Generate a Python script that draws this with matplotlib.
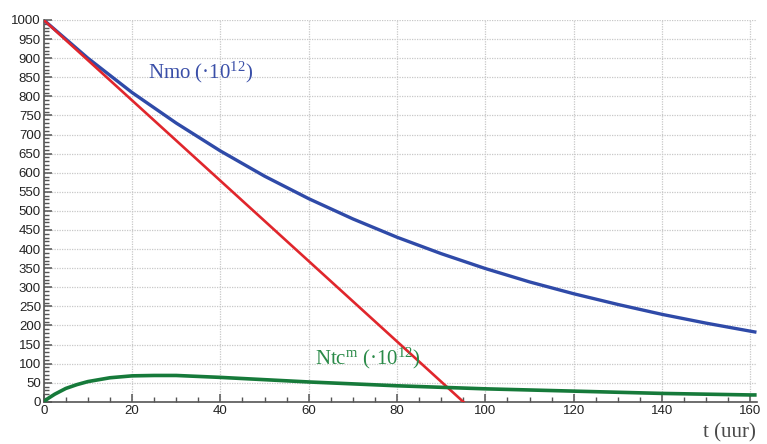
import matplotlib
matplotlib.use("agg")
import matplotlib.pyplot as plt
from matplotlib.ticker import MultipleLocator

# data
t_mo = [0, 10, 20, 30, 40, 50, 60, 70, 80, 90, 100, 110, 120, 130, 140, 150, 160, 161]
n_mo = [1000, 900, 810, 730, 657, 591, 532, 479, 431, 388, 349, 314, 283, 255, 229, 206, 185, 183]

t_tc = [0, 1, 2.5, 5, 7.5, 10, 15, 20, 25, 30, 40, 50, 60, 70, 80, 90, 100, 110, 120, 130, 140, 150, 160, 161]
n_tc = [0, 9, 20, 35, 45, 53, 63, 68, 69, 69, 64, 58, 52, 47, 42, 38, 34, 31, 28, 25, 22, 20, 18, 18]

t_tan = [0, 95]
n_tan = [1000, 0]

label_mo = "Nmo (\u00b710$^{12}$)"
label_tc = "Ntc$^{\\mathrm{m}}$ (\u00b710$^{12}$)"
xlabel = "t (uur)"

plt.rcParams["mathtext.fontset"] = "custom"
plt.rcParams["mathtext.rm"] = "Liberation Serif"
plt.rcParams["mathtext.it"] = "Liberation Serif:italic"

fig = plt.figure(figsize=(7.67, 4.44), dpi=100)
ax = fig.add_axes([0.057, 0.095, 0.93, 0.86])

ax.plot(t_mo, n_mo, color="#2f4aa8", lw=2.4, zorder=3)
ax.plot(t_tan, n_tan, color="#e0262c", lw=1.9, zorder=3)
ax.plot(t_tc, n_tc, color="#167a3a", lw=2.6, zorder=3)

ax.set_xlim(0, 161.5)
ax.set_ylim(0, 1000)
ax.xaxis.set_major_locator(MultipleLocator(20))
ax.xaxis.set_minor_locator(MultipleLocator(5))
ax.yaxis.set_major_locator(MultipleLocator(50))
ax.yaxis.set_minor_locator(MultipleLocator(10))

ax.grid(True, which="major", color="#c8c8c8", linestyle=(0, (1, 1)), lw=0.9)
ax.set_axisbelow(True)

for s in ["top", "right"]:
    ax.spines[s].set_visible(False)
for s in ["left", "bottom"]:
    ax.spines[s].set_color("#555555")
    ax.spines[s].set_linewidth(1.2)

ax.tick_params(which="major", direction="in", length=6, width=1.1, color="#555555",
               labelsize=9.5, pad=2, labelcolor="#222222")
ax.tick_params(which="minor", direction="in", length=3.5, width=1.0, color="#555555")
for lab in ax.get_xticklabels() + ax.get_yticklabels():
    lab.set_fontfamily("Liberation Sans")

ax.text(23.5, 864, label_mo, color="#3a4fa8", fontsize=15, family="Liberation Serif",
        va="center", ha="left")
ax.text(61.5, 115, label_tc, color="#2a8a48", fontsize=15, family="Liberation Serif",
        va="center", ha="left")
fig.text(0.985, 0.025, xlabel, color="#4a4a4a", fontsize=15, family="Liberation Serif",
         ha="right", va="center")

plt.savefig("out.png", facecolor="w")
